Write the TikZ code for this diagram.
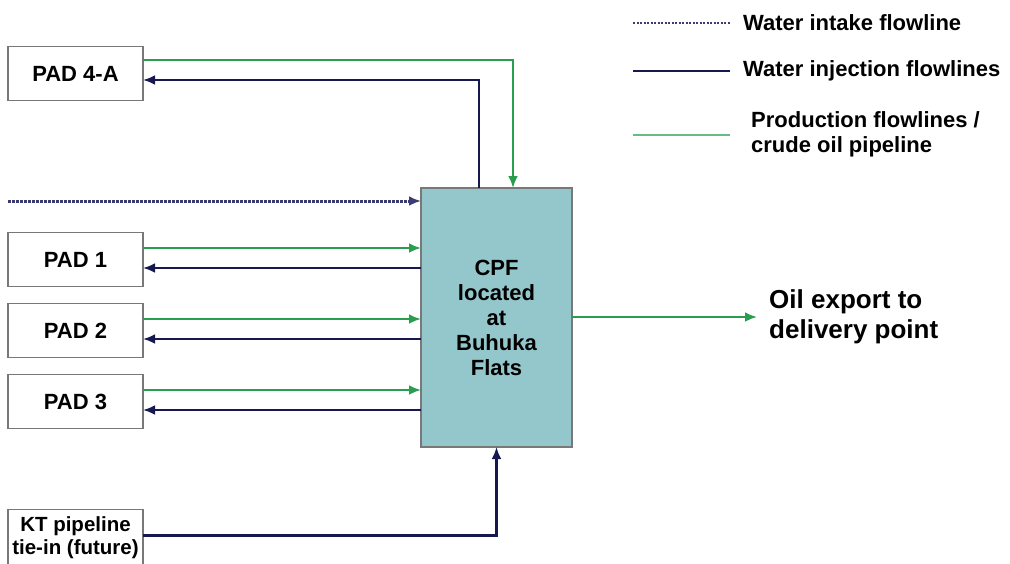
\documentclass[tikz,border=0pt]{standalone}
\usepackage{fontspec}
\setmainfont{Liberation Sans}
\usetikzlibrary{positioning, arrows.meta}
\definecolor{prodgreen}{RGB}{40,158,78}
\definecolor{injnavy}{RGB}{24,24,80}
\definecolor{intakeblue}{RGB}{60,60,115}
\definecolor{cpfteal}{RGB}{148,199,203}
\definecolor{boxgray}{RGB}{120,120,120}
\tikzset{
  >={Latex[length=12pt,width=10pt]},
  node distance=17pt,
  pad/.style={draw=boxgray, line width=1.3pt, outer sep=0pt, minimum width=135pt, minimum height=54pt, font=\bfseries\fontsize{22}{25}\selectfont},
  plant/.style={draw=boxgray, line width=1.3pt, outer sep=0pt, fill=cpfteal, minimum width=151pt, minimum height=259pt, align=center, font=\bfseries\fontsize{22}{25}\selectfont},
  prod/.style={draw=prodgreen, line width=2.4pt, ->},
  inj/.style={draw=injnavy, line width=2.4pt, ->},
  intake/.style={draw=intakeblue, line width=3pt, dash pattern=on 2.5pt off 1.5pt, ->},
  legtext/.style={anchor=west, inner sep=0pt, align=left, font=\bfseries\fontsize{22}{25}\selectfont},
}

\begin{document}
\begin{tikzpicture}[x=1pt, y=-1pt]
  \useasboundingbox (0,0) rectangle (1010,563);

  % pads and plant
  \node[pad] (pad4a) at (75.5,73.5) {PAD 4-A};
  \node[pad] (pad1) at (75.5,259.5) {PAD 1};
  \node[pad, below=of pad1] (pad2) {PAD 2};
  \node[pad, below=of pad2] (pad3) {PAD 3};
  \node[pad, below=81pt of pad3, minimum height=56pt, align=center, inner sep=2pt,
        font=\bfseries\fontsize{20.5}{23}\selectfont] (kt) {KT pipeline\\tie-in (future)};
  \node[plant] (cpf) at (496.5,317.5) {CPF\\located\\at\\Buhuka\\Flats};
  \node[legtext, font=\bfseries\fontsize{26}{30}\selectfont] (export) at (769,317) {Oil export to\\delivery point};

  % flowlines
  \draw[prod] ([yshift=13.5pt]pad4a.east) -| ([xshift=16.5pt]cpf.north);
  \draw[inj] ([xshift=-17.5pt]cpf.north) |- ([yshift=-6.5pt]pad4a.east);
  \coordinate (intake) at (8,201);
  \draw[intake] (intake) -- (intake -| cpf.west);
  \foreach \p in {pad1,pad2,pad3}{
    \draw[prod] ([yshift=11.5pt]\p.east) -- ([yshift=11.5pt]\p.east -| cpf.west);
    \draw[inj] ([yshift=-8.5pt]\p.east -| cpf.west) -- ([yshift=-8.5pt]\p.east);
  }
  \draw[inj] ([yshift=2pt]kt.east) -| (cpf.south);
  \draw[prod] (cpf.east |- export.west) -- ([xshift=-12pt]export.west);

  % legend
  \node[legtext] (legintake) at (743,23) {Water intake flowline};
  \node[legtext] (leginj) at (743,71) {Water injection flowlines};
  \node[legtext] (legprod) at (751,134.5) {Production flowlines /\\crude oil pipeline};
  \draw[intake, -, line width=1.6pt, dash pattern=on 2pt off 1.5pt] ([xshift=-110pt]legintake.west) -- ([xshift=-13pt]legintake.west);
  \draw[inj, -, line width=2pt] ([xshift=-110pt]leginj.west) -- ([xshift=-13pt]leginj.west);
  \draw[prod, -, line width=2pt, draw=prodgreen!70] ([xshift=-118pt]legprod.west) -- ([xshift=-21pt]legprod.west);
\end{tikzpicture}
\end{document}
